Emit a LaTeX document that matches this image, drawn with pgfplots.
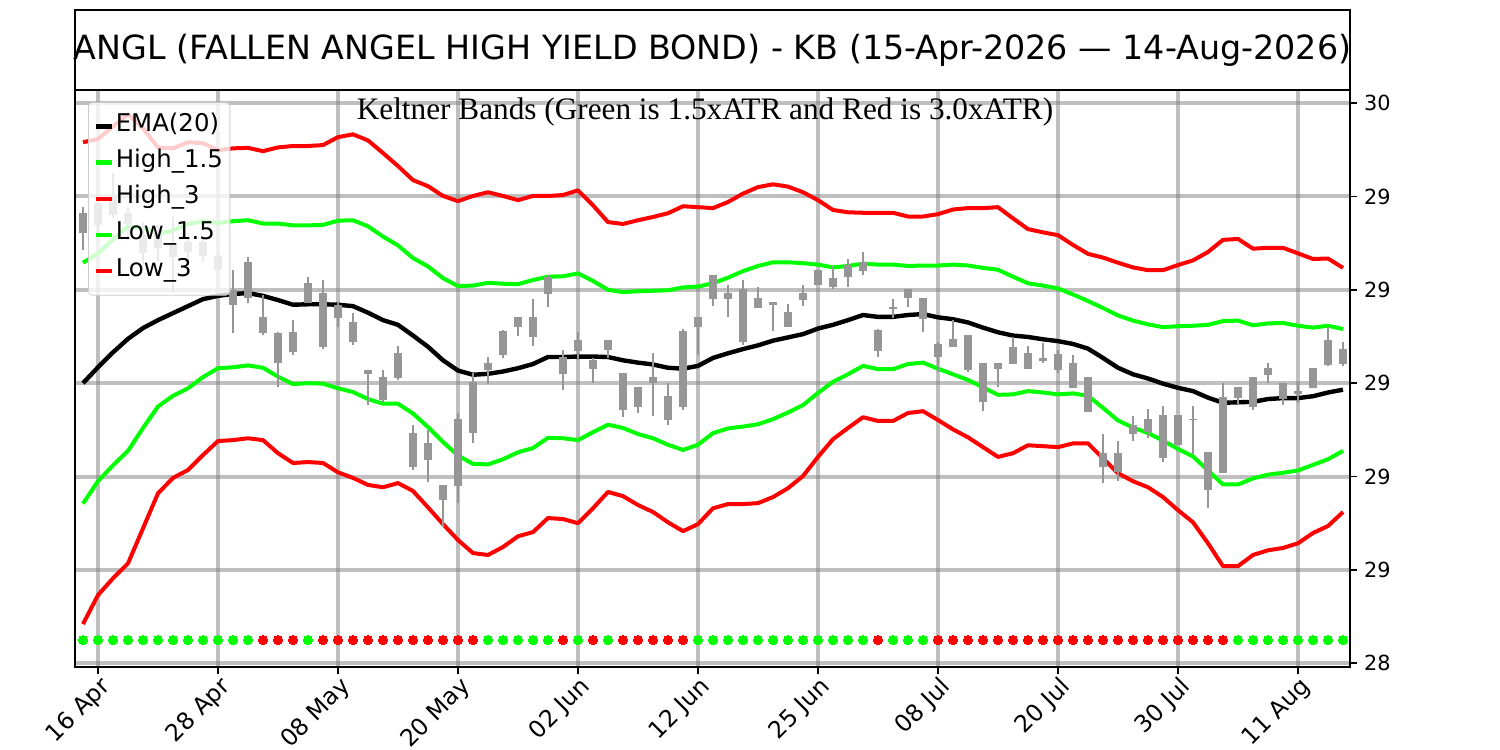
\documentclass[border=0pt]{standalone}
\usepackage{pgfplots}
\pgfplotsset{compat=1.18}
\usepackage{pgfplotstable}
\usepackage{fontspec}
\setmainfont{DejaVu Sans}
\newfontfamily\seriffont{Liberation Serif}
\definecolor{lime}{RGB}{0,255,0}
\definecolor{pred}{RGB}{255,0,0}
\definecolor{candle}{RGB}{150,150,150}
\definecolor{leggray}{RGB}{204,204,204}

\pgfplotstableread{
i ema h15 h3 l15 l3
0 29.000 29.258 29.516 28.742 28.484
1 29.034 29.278 29.523 28.790 28.546
2 29.066 29.308 29.550 28.824 28.582
3 29.095 29.336 29.576 28.855 28.614
4 29.118 29.332 29.546 28.904 28.689
5 29.135 29.320 29.505 28.950 28.764
6 29.150 29.327 29.503 28.973 28.797
7 29.165 29.341 29.516 28.989 28.814
8 29.180 29.347 29.514 29.013 28.846
9 29.187 29.343 29.499 29.032 28.876
10 29.191 29.347 29.503 29.034 28.878
11 29.193 29.349 29.504 29.038 28.882
12 29.187 29.342 29.497 29.033 28.878
13 29.178 29.342 29.505 29.014 28.850
14 29.168 29.338 29.508 28.998 28.829
15 29.169 29.338 29.508 29.000 28.831
16 29.169 29.339 29.510 28.999 28.829
17 29.168 29.348 29.527 28.989 28.809
18 29.165 29.349 29.533 28.981 28.797
19 29.151 29.336 29.520 28.966 28.782
20 29.135 29.314 29.493 28.956 28.777
21 29.125 29.295 29.465 28.956 28.786
22 29.102 29.268 29.435 28.935 28.769
23 29.078 29.250 29.422 28.906 28.734
24 29.049 29.225 29.401 28.874 28.698
25 29.027 29.208 29.390 28.845 28.664
26 29.018 29.209 29.401 28.827 28.636
27 29.020 29.215 29.409 28.826 28.632
28 29.025 29.213 29.401 28.837 28.649
29 29.032 29.212 29.392 28.852 28.672
30 29.041 29.221 29.401 28.861 28.681
31 29.056 29.228 29.401 28.883 28.711
32 29.056 29.229 29.403 28.882 28.709
33 29.057 29.235 29.413 28.878 28.700
34 29.057 29.219 29.381 28.895 28.732
35 29.056 29.200 29.345 28.911 28.767
36 29.049 29.195 29.341 28.904 28.758
37 29.044 29.197 29.349 28.891 28.739
38 29.040 29.198 29.356 28.882 28.724
39 29.033 29.199 29.364 28.868 28.702
40 29.031 29.205 29.379 28.857 28.683
41 29.037 29.207 29.377 28.868 28.698
42 29.054 29.214 29.375 28.893 28.732
43 29.064 29.226 29.388 28.903 28.741
44 29.073 29.240 29.406 28.907 28.741
45 29.081 29.251 29.420 28.912 28.743
46 29.091 29.259 29.426 28.923 28.756
47 29.098 29.259 29.421 28.937 28.775
48 29.105 29.257 29.409 28.953 28.801
49 29.117 29.254 29.392 28.979 28.842
50 29.125 29.248 29.371 29.003 28.880
51 29.135 29.251 29.366 29.019 28.904
52 29.146 29.256 29.365 29.037 28.927
53 29.142 29.254 29.365 29.030 28.919
54 29.142 29.254 29.365 29.030 28.919
55 29.146 29.251 29.357 29.041 28.936
56 29.148 29.252 29.357 29.044 28.940
57 29.141 29.252 29.362 29.031 28.921
58 29.137 29.254 29.372 29.019 28.901
59 29.130 29.252 29.375 29.007 28.884
60 29.119 29.247 29.375 28.991 28.863
61 29.109 29.243 29.377 28.975 28.842
62 29.102 29.228 29.353 28.976 28.850
63 29.099 29.214 29.330 28.983 28.867
64 29.094 29.209 29.323 28.980 28.865
65 29.090 29.203 29.317 28.976 28.863
66 29.084 29.190 29.296 28.978 28.871
67 29.074 29.176 29.277 28.973 28.871
68 29.054 29.161 29.269 28.947 28.839
69 29.033 29.145 29.258 28.920 28.807
70 29.019 29.134 29.248 28.905 28.790
71 29.010 29.126 29.242 28.893 28.777
72 28.999 29.120 29.242 28.877 28.756
73 28.990 29.122 29.253 28.859 28.728
74 28.983 29.123 29.263 28.843 28.702
75 28.969 29.125 29.281 28.813 28.657
76 28.958 29.133 29.307 28.783 28.608
77 28.959 29.134 29.309 28.783 28.608
78 28.960 29.124 29.288 28.796 28.632
79 28.966 29.128 29.290 28.804 28.642
80 28.968 29.129 29.290 28.808 28.647
81 28.968 29.123 29.278 28.813 28.657
82 28.972 29.119 29.266 28.825 28.679
83 28.980 29.123 29.267 28.837 28.694
84 28.986 29.116 29.247 28.855 28.724
}\bands

\pgfplotstableread{
i lo bl bh hi
0 29.285 29.321 29.364 29.377
1 29.306 29.338 29.386 29.403
2 29.353 29.360 29.398 29.450
3 29.306 29.341 29.364 29.375
4 29.253 29.278 29.317 29.345
5 29.259 29.289 29.328 29.338
6 29.193 29.270 29.300 29.356
7 29.259 29.281 29.302 29.313
8 29.259 29.272 29.302 29.311
9 29.240 29.242 29.272 29.278
10 29.107 29.167 29.199 29.242
11 29.171 29.182 29.259 29.270
12 29.103 29.107 29.141 29.188
13 28.991 29.043 29.107 29.109
14 29.060 29.066 29.109 29.135
15 29.171 29.171 29.214 29.227
16 29.073 29.077 29.193 29.221
17 29.120 29.139 29.167 29.171
18 29.081 29.088 29.131 29.150
19 28.953 29.019 29.028 29.028
20 28.959 28.964 29.013 29.028
21 29.006 29.011 29.064 29.079
22 28.814 28.820 28.893 28.910
23 28.788 28.835 28.871 28.899
24 28.692 28.749 28.782 28.782
25 28.743 28.779 28.923 28.936
26 28.871 28.893 29.002 29.021
27 28.998 29.028 29.043 29.056
28 29.054 29.060 29.111 29.114
29 29.101 29.120 29.141 29.141
30 29.079 29.099 29.141 29.180
31 29.163 29.191 29.227 29.231
32 28.985 29.019 29.056 29.071
33 29.049 29.069 29.092 29.109
34 29.000 29.030 29.049 29.054
35 29.054 29.071 29.092 29.092
36 28.927 28.942 29.021 29.021
37 28.936 28.949 28.991 28.991
38 28.929 29.000 29.013 29.064
39 28.910 28.921 28.972 29.000
40 28.942 28.949 29.111 29.116
41 29.060 29.120 29.141 29.141
42 29.165 29.180 29.231 29.231
43 29.141 29.180 29.193 29.210
44 29.081 29.088 29.201 29.221
45 29.161 29.161 29.182 29.206
46 29.111 29.167 29.173 29.173
47 29.120 29.120 29.152 29.169
48 29.165 29.178 29.193 29.210
49 29.210 29.210 29.242 29.242
50 29.201 29.206 29.225 29.251
51 29.206 29.227 29.253 29.266
52 29.231 29.240 29.259 29.281
53 29.056 29.069 29.114 29.116
54 29.139 29.158 29.163 29.180
55 29.163 29.182 29.201 29.201
56 29.109 29.137 29.182 29.182
57 29.024 29.056 29.084 29.088
58 29.077 29.077 29.094 29.135
59 29.024 29.028 29.103 29.103
60 28.940 28.959 29.043 29.043
61 28.991 29.030 29.043 29.043
62 29.041 29.041 29.077 29.099
63 29.030 29.030 29.064 29.079
64 29.043 29.047 29.054 29.086
65 29.021 29.028 29.062 29.071
66 28.989 28.989 29.043 29.060
67 28.938 28.938 29.013 29.013
68 28.786 28.820 28.850 28.891
69 28.790 28.809 28.850 28.876
70 28.876 28.891 28.910 28.929
71 28.882 28.895 28.923 28.944
72 28.831 28.839 28.931 28.951
73 28.867 28.867 28.931 28.931
74 28.848 28.921 28.923 28.951
75 28.732 28.771 28.852 28.852
76 28.807 28.807 28.970 29.000
77 28.955 28.968 28.991 28.991
78 28.942 28.949 29.013 29.013
79 29.000 29.017 29.032 29.043
80 28.953 28.966 29.000 29.000
81 28.957 28.976 28.983 29.002
82 28.989 28.989 29.032 29.032
83 29.036 29.039 29.092 29.120
84 29.036 29.041 29.073 29.088
}\candles

\begin{document}
\begin{tikzpicture}
\path[use as bounding box] (0,0) rectangle (750pt,375pt);
\begin{axis}[
  at={(37.5pt,41.5pt)}, anchor=south west,
  scale only axis, width=637.5pt, height=288.5pt,
  xmin=-0.533, xmax=84.467, ymin=28.392, ymax=29.628,
  axis line style={line width=0.8pt},
  xtick={1,9,17,25,33,41,49,57,65,73,81},
  xticklabels={16 Apr,28 Apr,08 May,20 May,02 Jun,12 Jun,25 Jun,08 Jul,20 Jul,30 Jul,11 Aug},
  xticklabel style={rotate=45, anchor=north east, font=\fontsize{11.8}{13}\selectfont, inner sep=0pt, yshift=-0.5pt},
  ytick={28.4,28.6,28.8,29.0,29.2,29.4,29.6},
  yticklabels={28,29,29,29,29,29,30},
  yticklabel pos=right,
  yticklabel style={font=\fontsize{10.4}{12}\selectfont},
  xtick pos=left, ytick pos=right,
  tick align=outside, major tick length=3.5pt,
  tick style={black, line width=0.8pt},
  grid=major,
  major grid style={draw=gray, opacity=0.5, line width=2pt},
  legend style={at={(0,1)}, anchor=north west, xshift=6.5pt, yshift=-6pt,
    fill=white, fill opacity=0.8, draw opacity=1, text opacity=1, draw=leggray,
    rounded corners=2pt, font=\fontsize{12.2}{14}\selectfont,
    row sep=6.1pt, inner xsep=2.5pt, inner ysep=6pt,
    nodes={inner sep=1pt, text depth=0.25em, text height=0.75em}},
  legend cell align=left,
  legend image code/.code={\draw[#1, line width=2.2pt] (0pt,0pt) -- (8pt,0pt);},
]
\addplot[black, line width=2.2pt, line join=round] table[x=i, y=ema] {\bands};
\addlegendentry{EMA(20)}
\addplot[lime, line width=2pt, line join=round] table[x=i, y=h15] {\bands};
\addlegendentry{High\_1.5}
\addplot[pred, line width=2pt, line join=round] table[x=i, y=h3] {\bands};
\addlegendentry{High\_3}
\addplot[lime, line width=2pt, line join=round] table[x=i, y=l15] {\bands};
\addlegendentry{Low\_1.5}
\addplot[pred, line width=2pt, line join=round] table[x=i, y=l3] {\bands};
\addlegendentry{Low\_3}

\addplot[forget plot, draw=none, mark=none,
  error bars/.cd, y dir=plus, y explicit, error mark=none,
  error bar style={draw=candle, line width=1.25pt}]
  table[x=i, y=lo, y error plus expr=\thisrow{hi}-\thisrow{lo}] {\candles};
\addplot[forget plot, draw=none, mark=none,
  error bars/.cd, y dir=plus, y explicit, error mark=none,
  error bar style={draw=candle, line width=3.75pt}]
  table[x=i, y=bl, y error plus expr=\thisrow{bh}-\thisrow{bl}] {\candles};

\addplot[forget plot, only marks, mark=*, mark size=2.25pt, mark options={draw=lime, fill=lime, line width=0pt}] coordinates {
(0,28.45)(1,28.45)(2,28.45)(3,28.45)(4,28.45)(5,28.45)(6,28.45)(7,28.45)(8,28.45)(9,28.45)(10,28.45)(11,28.45)
(15,28.45)(27,28.45)(28,28.45)(29,28.45)(30,28.45)(31,28.45)(33,28.45)(35,28.45)
(41,28.45)(42,28.45)(43,28.45)(44,28.45)(45,28.45)(46,28.45)(47,28.45)(48,28.45)(49,28.45)(50,28.45)(51,28.45)(52,28.45)
(54,28.45)(55,28.45)(56,28.45)
(77,28.45)(78,28.45)(79,28.45)(80,28.45)(81,28.45)(82,28.45)(83,28.45)(84,28.45)};
\addplot[forget plot, only marks, mark=*, mark size=2.25pt, mark options={draw=pred, fill=pred, line width=0pt}] coordinates {
(12,28.45)(13,28.45)(14,28.45)
(16,28.45)(17,28.45)(18,28.45)(19,28.45)(20,28.45)(21,28.45)(22,28.45)(23,28.45)(24,28.45)(25,28.45)(26,28.45)
(32,28.45)(34,28.45)(36,28.45)(37,28.45)(38,28.45)(39,28.45)(40,28.45)(53,28.45)
(57,28.45)(58,28.45)(59,28.45)(60,28.45)(61,28.45)(62,28.45)(63,28.45)(64,28.45)(65,28.45)(66,28.45)
(67,28.45)(68,28.45)(69,28.45)(70,28.45)(71,28.45)(72,28.45)(73,28.45)(74,28.45)(75,28.45)(76,28.45)};
\end{axis}
\draw[line width=0.8pt] (37.5pt,330pt) rectangle (675pt,370pt);
\node[font=\fontsize{16.67}{20}\selectfont, inner sep=0pt] at (356.25pt,350pt) {ANGL (FALLEN ANGEL HIGH YIELD BOND) - KB (15-Apr-2026 — 14-Aug-2026)};
\node[font=\seriffont\fontsize{15.63}{18}\selectfont, inner sep=0pt] at (352.5pt,319pt) {Keltner Bands (Green is 1.5xATR and Red is 3.0xATR)};
\end{tikzpicture}
\end{document}
